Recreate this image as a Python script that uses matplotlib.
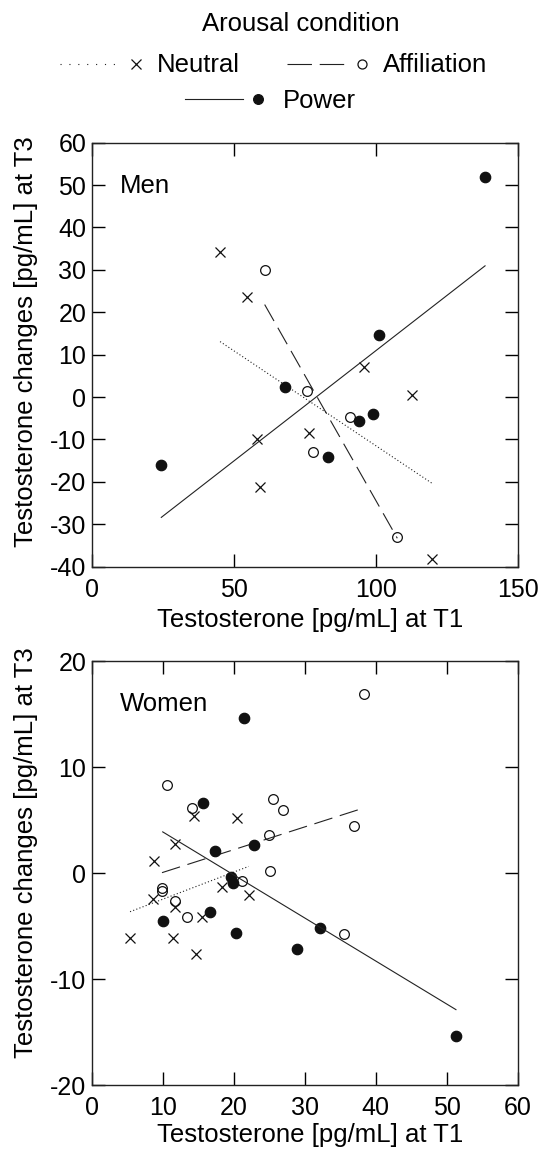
import numpy as np
import matplotlib.pyplot as plt
from matplotlib.lines import Line2D

plt.rcParams['font.family'] = ['Liberation Sans', 'DejaVu Sans']
plt.rcParams['font.size'] = 18.5
plt.rcParams['axes.unicode_minus'] = False

# Men (T1 testosterone, change at T3)
men_neutral_x = [45.2, 54.6, 95.9, 112.8, 58.3, 59.3, 76.5, 119.9]
men_neutral_y = [34.3, 23.5, 7.0, 0.5, -9.8, -21.1, -8.5, -38.1]
men_affil_x = [60.9, 75.7, 91.0, 77.8, 107.6]
men_affil_y = [30.0, 1.5, -4.6, -13.0, -32.9]
men_power_x = [138.5, 101.3, 68.1, 94.0, 99.2, 24.5, 83.2]
men_power_y = [52.0, 14.7, 2.3, -5.7, -4.1, -16.1, -14.2]

# Women
women_neutral_x = [14.4, 20.4, 11.7, 8.8, 18.3, 22.1, 8.7, 11.8, 15.6, 5.4, 11.5, 14.7]
women_neutral_y = [5.4, 5.2, 2.8, 1.2, -1.3, -2.0, -2.4, -3.2, -4.1, -6.1, -6.1, -7.6]
women_affil_x = [38.3, 10.6, 14.1, 25.5, 27.0, 36.9, 25.0, 25.1, 21.1, 9.9, 9.9, 11.8, 13.4, 35.5]
women_affil_y = [16.95, 8.3, 6.2, 7.0, 6.0, 4.5, 3.6, 0.2, -0.75, -1.4, -1.7, -2.6, -4.1, -5.75]
women_power_x = [21.4, 15.7, 22.8, 17.3, 19.6, 19.9, 16.6, 10.0, 20.3, 28.9, 32.1, 51.3]
women_power_y = [14.7, 6.6, 2.7, 2.1, -0.3, -0.9, -3.6, -4.5, -5.6, -7.1, -5.15, -15.3]

W, H = 542, 1155
fig = plt.figure(figsize=(W / 100, H / 100), dpi=100)

styles = {
    'neutral': dict(ls=(0, (1, 2)), leg_ls=(0, (1, 7)), marker='x', mfc='none', ms=7, mew=0.9),
    'affil': dict(ls=(0, (17, 7)), leg_ls=(0, (22, 7)), marker='o', mfc='none', ms=7, mew=0.9),
    'power': dict(ls='-', leg_ls='-', marker='o', mfc='#111', ms=7.5, mew=0.9),
}


def draw_panel(ax, groups, label):
    for (x, y), key in zip(groups, ['neutral', 'affil', 'power']):
        st = styles[key]
        x = np.array(x)
        y = np.array(y)
        ax.plot(x, y, ls='none', marker=st['marker'], mfc=st['mfc'],
                mec='#111', ms=st['ms'], mew=st['mew'])
        # least squares line over the range of the group
        k, b = np.polyfit(x, y, 1)
        xs = np.array([x.min(), x.max()])
        ax.plot(xs, k * xs + b, color='#222', lw=0.8, ls=st['ls'])
    ax.text(0.066, 0.927, label, transform=ax.transAxes, ha='left', va='top')
    ax.tick_params(direction='in', length=9.5, width=1, top=True, right=True, labelsize=18)
    ax.tick_params(axis='x', pad=8)
    ax.tick_params(axis='y', pad=4)
    for s in ax.spines.values():
        s.set_linewidth(1)
        s.set_color('#222')
    ax.set_xlabel('Testosterone [pg/mL] at T1')
    ax.set_ylabel('Testosterone changes [pg/mL] at T3')


ax1 = fig.add_axes([0.1692, 0.5094, 0.786, 0.3671])
draw_panel(ax1, [(men_neutral_x, men_neutral_y), (men_affil_x, men_affil_y),
                 (men_power_x, men_power_y)], 'Men')
ax1.set_xlim(0, 150)
ax1.set_ylim(-40, 60)
ax1.set_xticks([0, 50, 100, 150])
ax1.set_yticks(np.arange(-40, 61, 10))
ax1.yaxis.set_label_coords(-0.125, 0.53)
ax1.xaxis.set_label_coords(0.512, -0.097)

ax2 = fig.add_axes([0.1692, 0.0603, 0.786, 0.3671])
draw_panel(ax2, [(women_neutral_x, women_neutral_y), (women_affil_x, women_affil_y),
                 (women_power_x, women_power_y)], 'Women')
ax2.set_xlim(0, 60)
ax2.set_ylim(-20, 20)
ax2.set_xticks(np.arange(0, 61, 10))
ax2.set_yticks([-20, -10, 0, 10, 20])
ax2.yaxis.set_label_coords(-0.125, 0.55)
ax2.xaxis.set_label_coords(0.512, -0.089)


# legend drawn by hand at the top of the figure
def fx(px):
    return px / W


def fy(py):
    return 1 - py / H


fig.text(fx(301), fy(31), 'Arousal condition', ha='center', va='baseline')
# key, line start, line end, marker x, text x, line y, text baseline, name
legend_rows = [
    ('neutral', 60, 120, 136, 157, 63.5, 72, 'Neutral'),
    ('affil', 287, 347, 362, 383, 63.5, 72, 'Affiliation'),
    ('power', 185, 243, 258, 283, 99, 108, 'Power'),
]
for key, x0, x1, xm, xt, yl, yt, name in legend_rows:
    st = styles[key]
    fig.add_artist(Line2D([fx(x0), fx(x1)], [fy(yl), fy(yl)], transform=fig.transFigure,
                          color='#222', lw=0.8, ls=st['leg_ls']))
    fig.add_artist(Line2D([fx(xm)], [fy(yl)], transform=fig.transFigure, ls='none',
                          marker=st['marker'], mfc=st['mfc'], mec='#111',
                          ms=st['ms'] - 0.5, mew=st['mew']))
    fig.text(fx(xt), fy(yt), name, ha='left', va='baseline')

fig.savefig('out.png', dpi=100)
